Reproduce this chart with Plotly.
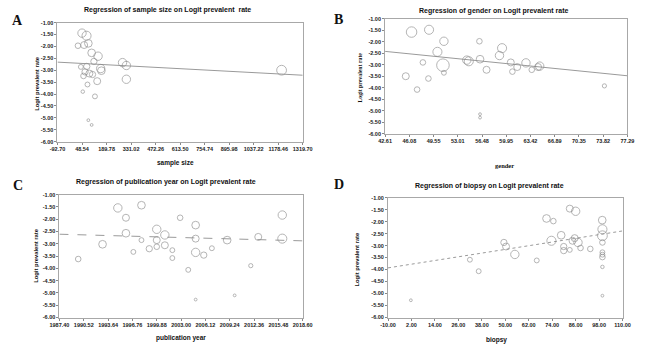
import plotly.graph_objects as go

# ---------------- data ----------------
a_x = [48.5, 74.6, 25.2, 60.7, 85, 104, 141, 117, 156, 160, 76, 42, 66, 57, 91, 109, 80, 136, 53, 123, 85, 104, 282, 304, 304, 1198]
a_y = [-1.44, -1.55, -1.97, -1.94, -1.87, -2.27, -2.41, -2.63, -2.93, -3.02, -2.84, -2.86, -3.07, -3.24, -3.14, -3.18, -3.60, -3.46, -3.90, -4.10, -5.10, -5.30, -2.68, -2.80, -3.38, -3.00]
a_s = [12, 13, 8, 10, 11, 11, 12, 9, 12, 11, 9, 7, 9, 8, 10, 9, 7, 10, 5, 7, 4, 4, 12, 12, 12, 14]
a_line_x = [-92.70, 1319.70]
a_line_y = [-2.66, -3.21]
a_ticks = [-92.70, 48.54, 189.78, 331.02, 472.26, 613.50, 754.74, 895.98, 1037.22, 1178.46, 1319.70]

b_x = [46.40, 48.90, 51.03, 50.10, 50.89, 51.03, 48.02, 45.57, 47.19, 48.81, 54.59, 54.30, 56.11, 56.20, 57.13, 56.20, 56.20, 59.35, 58.98, 60.60, 60.83, 61.52, 62.77, 63.60, 64.50, 64.74, 74.00]
b_y = [-1.58, -1.48, -1.98, -2.44, -3.02, -3.35, -2.90, -3.50, -4.08, -3.60, -2.85, -2.80, -1.98, -2.76, -3.22, -5.15, -5.30, -2.28, -2.60, -2.90, -3.30, -3.10, -2.92, -3.22, -3.10, -3.06, -3.92]
b_s = [15, 13, 12, 13, 18, 7, 8, 10, 8, 8, 13, 12, 8, 11, 10, 4, 4, 13, 12, 10, 8, 10, 12, 8, 10, 12, 6]
b_line_x = [42.61, 77.29]
b_line_y = [-2.42, -3.48]
b_ticks = [42.61, 46.08, 49.55, 53.01, 56.48, 59.95, 63.42, 66.89, 70.35, 73.82, 77.29]

c_x = [1989.81, 1992.93, 1994.89, 1995.93, 1995.93, 1996.88, 1997.92, 1997.92, 1998.92, 1999.88, 1999.88, 1999.88, 2000.92, 2000.92, 2001.88, 2001.88, 2002.88, 2003.92, 2004.87, 2004.87, 2004.87, 2004.87, 2005.91, 2006.95, 2008.91, 2009.87, 2011.94, 2012.90, 2015.98, 2015.98]
c_y = [-3.62, -3.02, -1.54, -1.94, -2.57, -3.33, -1.43, -2.85, -3.20, -2.41, -2.85, -3.12, -2.64, -3.06, -3.26, -3.58, -1.94, -4.06, -2.24, -2.79, -3.35, -5.27, -3.46, -3.18, -2.85, -5.10, -3.89, -2.72, -1.83, -2.79]
c_s = [8, 11, 12, 10, 11, 7, 11, 7, 9, 12, 10, 8, 12, 10, 7, 7, 8, 7, 11, 10, 12, 4, 9, 7, 11, 4, 6, 10, 12, 13]
c_line_x = [1987.40, 2018.60]
c_line_y = [-2.61, -2.88]
c_ticks = [1987.40, 1990.52, 1993.64, 1996.76, 1999.88, 2003.00, 2006.12, 2009.24, 2012.36, 2015.48, 2018.60]

d_x = [1.7, 31.9, 36.4, 49.3, 50.4, 54.9, 66.1, 71.1, 74.6, 73.6, 78.6, 79.9, 79.9, 83.0, 86.0, 83.0, 84.4, 85.5, 87.2, 88.5, 93.5, 99.6, 99.7, 99.7, 99.7, 99.7, 99.7, 99.7, 99.7, 99.7]
d_y = [-5.28, -3.59, -4.07, -2.87, -3.04, -3.37, -3.62, -1.87, -1.98, -2.80, -2.57, -3.04, -3.21, -1.46, -1.57, -3.18, -2.80, -2.69, -2.87, -3.10, -3.14, -1.94, -2.32, -2.59, -2.87, -3.28, -3.38, -3.48, -3.89, -5.09]
d_s = [4, 7, 7, 9, 10, 12, 7, 11, 8, 13, 11, 9, 9, 10, 12, 7, 10, 10, 12, 8, 8, 11, 13, 14, 8, 7, 7, 8, 5, 4]
d_line_x = [-10.00, 110.00]
d_line_y = [-3.93, -2.39]
d_ticks = [-10.00, 2.00, 14.00, 26.00, 38.00, 50.00, 62.00, 74.00, 86.00, 98.00, 110.00]

y_ticks = [-1.0, -1.5, -2.0, -2.5, -3.0, -3.5, -4.0, -4.5, -5.0, -5.5, -6.0]

titles = ["Regression of sample size on Logit prevalent  rate",
          "Regression of gender on Logit prevalent rate",
          "Regression of publication year on Logit prevalent rate",
          "Regression of biopsy on Logit prevalent rate"]
xtitles = ["sample size", "gender", "publication year", "biopsy"]
ytitle = "Logit prevalent rate"
letters = ["A", "B", "C", "D"]

W, H = 650, 350
fig = go.Figure()

panels = [
    (a_x, a_y, a_s, a_line_x, a_line_y, a_ticks, "solid"),
    (b_x, b_y, b_s, b_line_x, b_line_y, b_ticks, "solid"),
    (c_x, c_y, c_s, c_line_x, c_line_y, c_ticks, "dash"),
    (d_x, d_y, d_s, d_line_x, d_line_y, d_ticks, "dot"),
]
boxes = [(49, 302, 20, 141), (387, 637, 16, 133), (51, 302, 195, 320), (390, 632, 198, 320)]

tick_font = dict(family="Liberation Sans, Arial", size=5.5, color="#222", weight="bold")

for i, (px, py, ps, lx, ly, xt, dash) in enumerate(panels):
    n = "" if i == 0 else str(i + 1)
    xa, ya = "x" + n, "y" + n
    fig.add_trace(go.Scatter(x=lx, y=ly, mode="lines", xaxis=xa, yaxis=ya,
                             line=dict(color="#9a9a9a", width=1, dash=dash), hoverinfo="skip"))
    fig.add_trace(go.Scatter(x=px, y=py, mode="markers", xaxis=xa, yaxis=ya,
                             marker=dict(size=[s * 2 / 3 * 1.05 for s in ps], color="rgba(0,0,0,0)",
                                         line=dict(color="#8a8a8a", width=0.9))))
    l, r, t, b = boxes[i]
    fig.layout["xaxis" + n] = dict(domain=[l / W, r / W], anchor=ya, range=[xt[0], xt[-1]],
                                   tickvals=xt, ticktext=[f"{v:.2f}" for v in xt],
                                   tickfont=tick_font, showgrid=False, zeroline=False,
                                   showline=True, linecolor="#a8a8a8", linewidth=1, mirror=True,
                                   ticks="outside", ticklen=2, tickcolor="#888", tickangle=0)
    fig.layout["yaxis" + n] = dict(domain=[1 - b / H, 1 - t / H], anchor=xa, range=[-6.0, -1.0],
                                   tickvals=y_ticks, ticktext=[f"{v:.2f}" for v in y_ticks],
                                   tickfont=tick_font, showgrid=False, zeroline=False,
                                   showline=True, linecolor="#a8a8a8", linewidth=1, mirror=True,
                                   ticks="outside", ticklen=2, tickcolor="#888")

annotations = []
title_pos = [(163, 7), (499, 8), (161, 182), (495, 186)]
letter_pos = [(8, 18), (339, 17), (8, 186), (339, 185)]
xt_pos = [(171, 163), (510, 165), (176, 341), (502, 343)]
yt_pos = [(27, 82), (361, 76), (26, 257), (358, 260)]
serif = "Liberation Serif, Times New Roman, serif"
sans = "Liberation Sans, Arial"
for i in range(4):
    tx, ty = title_pos[i]
    annotations.append(dict(x=tx / W, y=1 - ty / H, xref="paper", yref="paper", text=titles[i],
                            xanchor="center", yanchor="middle",
                            showarrow=False, font=dict(family=sans, size=7, color="#111", weight="bold")))
    lx_, ly_ = letter_pos[i]
    annotations.append(dict(x=lx_ / W, y=1 - ly_ / H, xref="paper", yref="paper", text=letters[i],
                            xanchor="center", yanchor="middle",
                            showarrow=False, font=dict(family=serif, size=14, color="#111", weight="bold")))
    fam = serif if i == 1 else sans
    xx, xy = xt_pos[i]
    annotations.append(dict(x=xx / W, y=1 - xy / H, xref="paper", yref="paper", text=xtitles[i],
                            xanchor="center", yanchor="middle",
                            showarrow=False, font=dict(family=fam, size=6.5, color="#111", weight="bold")))
    yx, yy = yt_pos[i]
    annotations.append(dict(x=yx / W, y=1 - yy / H, xref="paper", yref="paper", text=ytitle, textangle=-90,
                            xanchor="center", yanchor="middle",
                            showarrow=False, font=dict(family=fam, size=5.8, color="#111", weight="bold")))

fig.update_layout(width=W, height=H, margin=dict(l=0, r=0, t=0, b=0), showlegend=False,
                  paper_bgcolor="white", plot_bgcolor="white", annotations=annotations)

fig.write_html("out.html", config={"displayModeBar": False},
               post_script="document.body.style.margin='0';")
